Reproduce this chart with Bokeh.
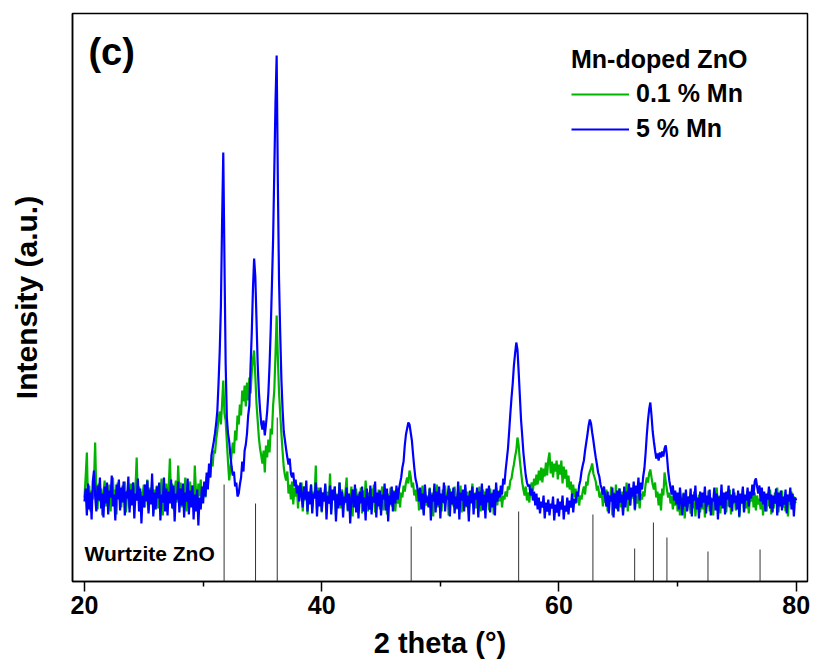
import numpy as np
from bokeh.plotting import figure
from bokeh.models import Range1d, FixedTicker, Legend, LegendItem, Label
from bokeh.embed import file_html
from bokeh.resources import INLINE

# 2-theta sampling grid (deg), 0.1 deg steps from 20 to 80
two_theta = np.round(np.arange(20.0, 80.0001, 0.1), 1)

# 0.1 % Mn (green) intensity, arbitrary units, one row per degree (20.0 ... 20.9, 21.0 ...)
mn01_intensity = [
    84, 105, 129, 78, 96, 70, 91, 82, 100, 139,
    86, 72, 98, 80, 93, 66, 89, 101, 75, 94,
    79, 97, 70, 88, 104, 76, 92, 67, 99, 83,
    90, 74, 96, 82, 100, 69, 87, 94, 73, 98,
    85, 99, 76, 93, 124, 81, 95, 70, 90, 86,
    97, 74, 89, 102, 71, 94, 83, 99, 68, 92,
    80, 96, 73, 91, 87, 103, 66, 95, 82, 98,
    77, 93, 123, 84, 98, 72, 90, 101, 79, 116,
    88, 99, 74, 92, 83, 104, 70, 95, 86, 100,
    81, 96, 77, 116, 89, 73, 98, 85, 102, 79,
    88, 99, 84, 105, 96, 112, 104, 120, 115, 131,
    128, 142, 151, 163, 170, 157, 178, 201, 168, 161,
    140, 119, 101, 113, 127, 139, 128, 151, 141, 166,
    157, 177, 166, 191, 180, 196, 175, 199, 181, 204,
    188, 209, 222, 231, 206, 178, 161, 144, 133, 126,
    118, 131, 109, 136, 124, 142, 129, 153, 147, 176,
    191, 226, 266, 224, 189, 168, 148, 130, 114, 106,
    101, 110, 88, 97, 82, 100, 77, 94, 85, 97,
    73, 92, 86, 99, 70, 95, 81, 90, 67, 88,
    83, 97, 74, 90, 86, 116, 72, 94, 80, 91,
    69, 89, 82, 96, 75, 90, 78, 108, 71, 87,
    84, 95, 66, 88, 79, 99, 73, 92, 85, 77,
    90, 104, 70, 86, 81, 95, 65, 89, 78, 93,
    74, 88, 80, 94, 68, 91, 77, 101, 83, 70,
    89, 76, 93, 84, 97, 69, 86, 79, 92, 72,
    87, 95, 71, 84, 90, 67, 88, 80, 94, 75,
    83, 91, 70, 86, 78, 92, 74, 89, 84, 96,
    90, 99, 104, 98, 111, 105, 94, 99, 86, 92,
    80, 93, 71, 88, 84, 96, 68, 90, 76, 86,
    79, 94, 73, 89, 65, 87, 82, 97, 74, 88,
    85, 70, 92, 78, 96, 81, 88, 66, 93, 77,
    89, 75, 95, 83, 72, 91, 79, 96, 69, 86,
    81, 94, 74, 90, 68, 87, 83, 98, 76, 89,
    73, 88, 80, 95, 70, 84, 92, 77, 90, 82,
    86, 71, 93, 79, 89, 67, 85, 94, 76, 91,
    80, 92, 74, 86, 82, 90, 85, 95, 92, 101,
    103, 111, 117, 125, 131, 144, 136, 121, 110, 99,
    92, 86, 95, 81, 89, 79, 93, 99, 90, 103,
    96, 107, 97, 111, 101, 114, 99, 113, 105, 119,
    106, 122, 129, 108, 120, 104, 118, 110, 121, 102,
    117, 107, 121, 98, 115, 103, 112, 94, 106, 92,
    100, 87, 97, 84, 93, 79, 88, 76, 86, 82,
    90, 95, 87, 100, 96, 106, 110, 113, 118, 108,
    104, 100, 91, 96, 85, 84, 90, 75, 88, 79,
    92, 70, 86, 80, 95, 66, 89, 77, 97, 72,
    85, 93, 74, 90, 68, 87, 81, 99, 70, 88,
    76, 91, 83, 94, 71, 86, 78, 89, 73, 88,
    82, 90, 85, 97, 104, 99, 108, 112, 104, 97,
    92, 99, 84, 90, 76, 88, 71, 93, 86, 109,
    100, 92, 84, 89, 78, 86, 72, 83, 76, 88,
    70, 84, 66, 80, 74, 89, 63, 82, 71, 85,
    78, 68, 86, 73, 90, 65, 81, 76, 87, 69,
    83, 72, 88, 64, 80, 75, 91, 70, 84, 77,
    66, 85, 79, 94, 71, 86, 68, 82, 74, 88,
    80, 69, 87, 75, 92, 67, 83, 78, 89, 71,
    76, 88, 64, 82, 79, 93, 70, 85, 73, 90,
    68, 84, 80, 95, 74, 89, 71, 86, 77, 83,
    72, 90, 66, 81, 85, 70, 88, 75, 92, 67,
    84, 73, 89, 78, 94, 69, 82, 76, 91, 74,
    81, 70, 87, 65, 83, 77, 90, 72, 85, 79,
    80,
]

# 5 % Mn (blue) intensity, arbitrary units
mn5_intensity = [
    80, 93, 66, 98, 72, 89, 62, 100, 111, 85,
    70, 96, 81, 104, 73, 88, 64, 95, 78, 99,
    67, 91, 84, 106, 75, 87, 61, 97, 82, 102,
    71, 94, 79, 100, 66, 90, 83, 105, 69, 92,
    76, 99, 63, 88, 81, 103, 70, 93, 58, 86,
    74, 97, 80, 101, 68, 92, 77, 108, 65, 89,
    72, 95, 83, 99, 61, 87, 79, 104, 70, 93,
    66, 90, 78, 102, 73, 96, 60, 88, 82, 100,
    69, 93, 76, 98, 64, 89, 80, 103, 67, 91,
    74, 96, 62, 87, 70, 92, 56, 84, 72, 95,
    78, 100, 85, 109, 92, 118, 104, 126, 133, 140,
    148, 158, 171, 198, 230, 275, 360, 429, 320, 218,
    164, 148, 140, 126, 115, 106, 110, 95, 99, 85,
    88, 97, 104, 120, 110, 131, 137, 148, 166, 176,
    215, 248, 292, 323, 305, 262, 218, 190, 172, 158,
    152, 161, 146, 157, 170, 188, 216, 252, 296, 342,
    410, 478, 526, 400, 302, 248, 202, 172, 150, 141,
    132, 124, 117, 123, 108, 104, 109, 95, 102, 88,
    96, 80, 99, 86, 74, 95, 82, 101, 70, 90,
    77, 97, 68, 88, 83, 99, 65, 91, 75, 94,
    70, 89, 80, 98, 62, 86, 78, 96, 67, 92,
    81, 95, 60, 87, 73, 99, 76, 90, 64, 85,
    79, 94, 71, 88, 58, 83, 92, 74, 97, 69,
    86, 63, 90, 78, 95, 70, 84, 61, 93, 80,
    72, 96, 67, 85, 79, 100, 64, 89, 75, 91,
    66, 87, 82, 98, 71, 93, 60, 86, 77, 95,
    70, 90, 78, 96, 82, 92, 98, 104, 114, 120,
    136, 147, 153, 159, 157, 149, 141, 127, 114, 103,
    98, 91, 80, 94, 72, 88, 66, 97, 79, 85,
    74, 93, 61, 87, 80, 98, 69, 90, 76, 95,
    63, 88, 79, 99, 70, 86, 82, 96, 65, 90,
    77, 94, 68, 85, 73, 100, 62, 89, 81, 92,
    70, 97, 75, 86, 60, 91, 78, 95, 67, 88,
    82, 94, 64, 90, 76, 98, 71, 87, 63, 93,
    79, 96, 69, 88, 74, 92, 66, 99, 80, 90,
    84, 96, 87, 103, 97, 111, 122, 133, 150, 168,
    184, 198, 216, 228, 239, 232, 210, 186, 162, 146,
    129, 117, 106, 99, 95, 97, 86, 93, 81, 90,
    76, 88, 72, 84, 68, 80, 74, 86, 63, 79,
    70, 82, 66, 78, 73, 85, 61, 77, 69, 83,
    65, 80, 72, 86, 62, 76, 70, 84, 67, 81,
    74, 88, 69, 83, 78, 90, 85, 96, 101, 110,
    116, 121, 131, 139, 147, 156, 162, 158, 149, 141,
    132, 124, 117, 109, 105, 97, 93, 87, 95, 83,
    75, 90, 68, 86, 80, 94, 64, 88, 73, 91,
    70, 93, 79, 87, 66, 95, 74, 90, 82, 98,
    76, 94, 85, 100, 72, 96, 88, 104, 81, 99,
    92, 105, 113, 128, 146, 161, 172, 179, 166, 150,
    140, 131, 123, 128, 121, 129, 124, 130, 125, 133,
    136, 126, 111, 101, 94, 87, 96, 81, 91, 77,
    89, 72, 94, 80, 66, 88, 75, 92, 70, 85,
    78, 93, 65, 87, 81, 96, 72, 84, 63, 90,
    74, 89, 79, 95, 68, 86, 77, 92, 66, 83,
    80, 94, 71, 88, 62, 85, 76, 97, 73, 89,
    67, 90, 82, 96, 74, 87, 70, 93, 79, 86,
    72, 91, 65, 88, 78, 95, 69, 87, 81, 94,
    75, 90, 83, 97, 86, 100, 103, 95, 88, 96,
    80, 94, 77, 90, 70, 88, 82, 95, 73, 87,
    69, 86, 78, 93, 66, 89, 75, 91, 71, 85,
    77, 92, 68, 87, 80, 94, 72, 88, 65, 84,
    81,
]

# Wurtzite ZnO reference pattern (stick positions in deg, relative heights)
ref_positions = [31.77, 34.42, 36.25, 47.54, 56.60, 62.86, 66.38, 67.96, 69.10, 72.56, 76.95]
ref_heights = [97, 78, 164, 55, 70, 67, 33, 59, 44, 30, 32]

x_ticks = [20, 40, 60, 80]
x_minor_ticks = [30, 50, 70]

assert len(mn01_intensity) == len(two_theta), len(mn01_intensity)
assert len(mn5_intensity) == len(two_theta), len(mn5_intensity)

FONT = "Liberation Sans"
GREEN = "#00B400"
BLUE = "#0000FF"

p = figure(width=810, height=666, output_backend="svg", toolbar_location=None,
           x_range=Range1d(18.99, 80.95), y_range=Range1d(0, 568),
           min_border_left=72, min_border_right=3, min_border_top=13, min_border_bottom=85)
p.xgrid.visible = False
p.ygrid.visible = False
p.outline_line_color = "black"
p.outline_line_width = 1.5
p.background_fill_color = "white"
p.border_fill_color = "white"

# reference sticks
p.segment(x0=ref_positions, y0=[0] * len(ref_positions), x1=ref_positions, y1=ref_heights,
          line_color="#333333", line_width=1)

g = p.line(two_theta, mn01_intensity, line_color=GREEN, line_width=2.2)
b = p.line(two_theta, mn5_intensity, line_color=BLUE, line_width=2.2)

# axes
xa = p.xaxis[0]
xa.ticker = FixedTicker(ticks=x_ticks, minor_ticks=x_minor_ticks)
xa.axis_label = "2 theta (°)"
xa.axis_label_text_font = FONT
xa.axis_label_text_font_style = "bold"
xa.axis_label_text_font_size = "29px"
xa.axis_label_text_color = "black"
xa.axis_label_standoff = 10
xa.major_label_text_font = FONT
xa.major_label_text_font_style = "bold"
xa.major_label_text_font_size = "25px"
xa.major_label_text_color = "black"
xa.major_label_standoff = 4
xa.major_tick_out = 10
xa.major_tick_in = 0
xa.minor_tick_out = 5
xa.minor_tick_in = 0
xa.axis_line_width = 1.5
xa.major_tick_line_width = 1.5
xa.minor_tick_line_width = 1.5
xa.axis_line_color = "black"

ya = p.yaxis[0]
ya.ticker = FixedTicker(ticks=[])
ya.axis_label = "Intensity (a.u.)"
ya.axis_label_text_font = FONT
ya.axis_label_text_font_style = "bold"
ya.axis_label_text_font_size = "30px"
ya.axis_label_text_color = "black"
ya.axis_label_standoff = 30
ya.major_tick_line_color = None
ya.minor_tick_line_color = None
ya.axis_line_width = 1.5
ya.axis_line_color = "black"

# panel letter and reference label
p.add_layout(Label(x=20.33, y=530, text="(c)", text_font=FONT, text_font_style="bold",
                   text_font_size="38px", text_baseline="middle", text_align="left",
                   text_color="black"))
p.add_layout(Label(x=20.0, y=28, text="Wurtzite ZnO", text_font=FONT, text_font_style="bold",
                   text_font_size="21px", text_baseline="middle", text_align="left",
                   text_color="black"))

legend = Legend(items=[LegendItem(label="0.1 % Mn", renderers=[g]),
                       LegendItem(label="5 % Mn", renderers=[b])],
                title="Mn-doped ZnO", location=(499, 438))
legend.title_text_font = FONT
legend.title_text_font_style = "bold"
legend.title_text_font_size = "25px"
legend.title_text_color = "black"
legend.title_standoff = 5
legend.label_text_font = FONT
legend.label_text_font_style = "bold"
legend.label_text_font_size = "25px"
legend.label_text_color = "black"
legend.label_standoff = 7
legend.glyph_width = 58
legend.glyph_height = 20
legend.spacing = 6
legend.padding = 0
legend.margin = 0
legend.border_line_color = None
legend.background_fill_alpha = 0
legend.inactive_fill_alpha = 0
p.add_layout(legend)

html = file_html(p, INLINE)
with open("out.html", "w") as f:
    f.write(html)
